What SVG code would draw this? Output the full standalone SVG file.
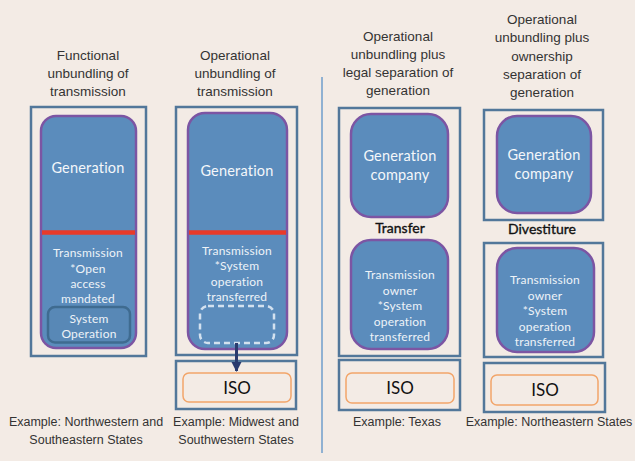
<svg xmlns="http://www.w3.org/2000/svg" width="635" height="461" viewBox="0 0 635 461">
<defs>
<style>
.title{font-family:"Liberation Sans",Arial,sans-serif;font-size:13.5px;fill:#333;text-anchor:middle}
.ex{font-family:"Liberation Sans",Arial,sans-serif;font-size:12.5px;fill:#333;text-anchor:middle}
.outer{fill:none;stroke:#52779a;stroke-width:2.5}
.unit{fill:#5b8cbc;stroke:#7c55a3;stroke-width:2.5}
.wt{font-family:"Lato","Liberation Sans",sans-serif;font-size:12px;fill:#eef3f8;text-anchor:middle;letter-spacing:0.2px}
.gt{font-family:"Lato","Liberation Sans",sans-serif;font-size:14.5px;fill:#f4f7fa;text-anchor:middle;letter-spacing:0.2px}
.iso{fill:#f3ebe5;stroke:#f2a56a;stroke-width:1.5}
.isot{font-family:"Lato","Liberation Sans",sans-serif;font-size:17px;fill:#111;text-anchor:middle}
.lab{font-family:"Lato","Liberation Sans",sans-serif;font-size:14px;fill:#111;stroke:#111;stroke-width:0.35;text-anchor:middle}
</style>
<marker id="ah" viewBox="0 0 10 10" refX="9" refY="5" markerWidth="3.4" markerHeight="3.4" orient="auto" markerUnits="strokeWidth">
<path d="M0,0 L10,5 L0,10 z" fill="#2b3b6e"/>
</marker>
</defs>
<rect x="0" y="0" width="635" height="461" fill="#f3ebe5"/>

<g id="divider"><line x1="322" y1="77" x2="322" y2="453" stroke="#6f9ecb" stroke-width="1.5"/></g>

<g id="col1">
<text class="title" x="88" y="60">Functional</text>
<text class="title" x="88" y="78">unbundling of</text>
<text class="title" x="88" y="96">transmission</text>
<rect class="outer" x="31" y="107" width="115" height="249"/>
<rect class="unit" x="41" y="116" width="95" height="232" rx="15"/>
<line x1="42" y1="232.5" x2="135" y2="232.5" stroke="#e83a2a" stroke-width="4.5"/>
<text class="gt" x="88" y="173">Generation</text>
<text class="wt" x="88" y="257">Transmission</text>
<text class="wt" x="88" y="272.5">*Open</text>
<text class="wt" x="88" y="288">access</text>
<text class="wt" x="88" y="303">mandated</text>
<rect x="48" y="307" width="82" height="35.5" rx="7" fill="#5888b6" stroke="#3f6b90" stroke-width="2.5"/>
<text class="wt" x="89" y="322.5">System</text>
<text class="wt" x="89" y="337.5">Operation</text>
<text class="ex" x="86" y="426">Example: Northwestern and</text>
<text class="ex" x="86" y="444">Southeastern States</text>
</g>

<g id="col2">
<text class="title" x="235" y="60">Operational</text>
<text class="title" x="235" y="78">unbundling of</text>
<text class="title" x="235" y="96">transmission</text>
<rect class="outer" x="176" y="107" width="121" height="248"/>
<rect class="unit" x="188" y="113" width="99" height="236" rx="17"/>
<line x1="189" y1="232.5" x2="286" y2="232.5" stroke="#e83a2a" stroke-width="4.5"/>
<text class="gt" x="237" y="176">Generation</text>
<text class="wt" x="237" y="254.5">Transmission</text>
<text class="wt" x="237" y="269.5">*System</text>
<text class="wt" x="237" y="285.5">operation</text>
<text class="wt" x="237" y="300.5">transferred</text>
<rect x="200" y="306" width="74" height="37" rx="8" fill="none" stroke="#d3e1ef" stroke-width="2.5" stroke-dasharray="6,4"/>
</g>

<g id="iso2">
<rect class="outer" x="176" y="361" width="120" height="48"/>
<rect class="iso" x="183" y="373" width="108" height="29" rx="6"/>
<text class="isot" x="237" y="394">ISO</text>
<text class="ex" x="236" y="426">Example: Midwest and</text>
<text class="ex" x="236" y="444">Southwestern States</text>
</g>

<g id="col3">
<text class="title" x="398" y="41">Operational</text>
<text class="title" x="398" y="59">unbundling plus</text>
<text class="title" x="398" y="77">legal separation of</text>
<text class="title" x="398" y="95">generation</text>
<rect class="outer" x="339" y="108" width="121" height="248"/>
<rect class="unit" x="351" y="114" width="97" height="103" rx="20"/>
<text class="gt" x="400" y="161">Generation</text>
<text class="gt" x="400" y="180">company</text>
<text class="lab" x="400" y="233">Transfer</text>
<rect class="unit" x="351" y="240" width="97" height="109" rx="20"/>
<text class="wt" x="400" y="279">Transmission</text>
<text class="wt" x="400" y="294.5">owner</text>
<text class="wt" x="400" y="310">*System</text>
<text class="wt" x="400" y="325.5">operation</text>
<text class="wt" x="400" y="340.5">transferred</text>
</g>

<g id="iso3">
<rect class="outer" x="339" y="360" width="121" height="50"/>
<rect class="iso" x="346" y="373" width="108" height="30" rx="6"/>
<text class="isot" x="400" y="394">ISO</text>
<text class="ex" x="397" y="426">Example: Texas</text>
</g>

<g id="col4">
<text class="title" x="542" y="24">Operational</text>
<text class="title" x="542" y="42">unbundling plus</text>
<text class="title" x="542" y="61">ownership</text>
<text class="title" x="542" y="79">separation of</text>
<text class="title" x="542" y="97">generation</text>
<rect class="outer" x="484" y="110" width="119" height="110"/>
<rect class="unit" x="497" y="116" width="94" height="97" rx="20"/>
<text class="gt" x="544" y="160">Generation</text>
<text class="gt" x="544" y="179">company</text>
<text class="lab" x="542" y="234">Divestiture</text>
<rect class="outer" x="484" y="243" width="119" height="114"/>
<rect class="unit" x="497" y="248" width="97" height="104" rx="20"/>
<text class="wt" x="545" y="284">Transmission</text>
<text class="wt" x="545" y="299.5">owner</text>
<text class="wt" x="545" y="315">*System</text>
<text class="wt" x="545" y="330.5">operation</text>
<text class="wt" x="545" y="345.5">transferred</text>
</g>

<g id="iso4">
<rect class="outer" x="484" y="363" width="121" height="49"/>
<rect class="iso" x="491" y="375" width="107" height="30" rx="6"/>
<text class="isot" x="545" y="396">ISO</text>
<text class="ex" x="549" y="426">Example: Northeastern States</text>
</g>

<g id="connectors">
<line x1="236.5" y1="343" x2="236.5" y2="371" stroke="#2b3b6e" stroke-width="3" marker-end="url(#ah)"/>
</g>
</svg>
